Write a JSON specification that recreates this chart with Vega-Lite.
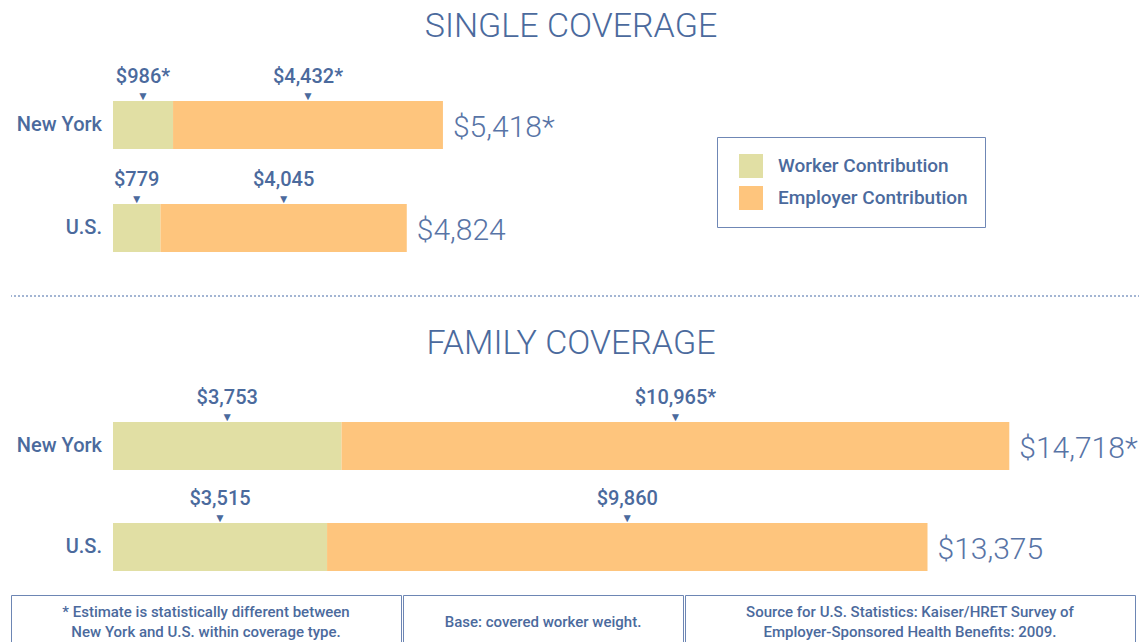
{
  "$schema": "https://vega.github.io/schema/vega-lite/v6.json",
  "padding": {"left": 10, "top": 10, "right": 0, "bottom": 0},
  "background": "white",
  "config": {"view": {"stroke": null}, "font": "Roboto"},
  "datasets": {
    "contrib": [
      {"coverage": "Single", "region": "New York", "type": "Worker Contribution", "amount": 986, "label": "$986*"},
      {"coverage": "Single", "region": "New York", "type": "Employer Contribution", "amount": 4432, "label": "$4,432*"},
      {"coverage": "Single", "region": "U.S.", "type": "Worker Contribution", "amount": 779, "label": "$779"},
      {"coverage": "Single", "region": "U.S.", "type": "Employer Contribution", "amount": 4045, "label": "$4,045"},
      {"coverage": "Family", "region": "New York", "type": "Worker Contribution", "amount": 3753, "label": "$3,753"},
      {"coverage": "Family", "region": "New York", "type": "Employer Contribution", "amount": 10965, "label": "$10,965*"},
      {"coverage": "Family", "region": "U.S.", "type": "Worker Contribution", "amount": 3515, "label": "$3,515"},
      {"coverage": "Family", "region": "U.S.", "type": "Employer Contribution", "amount": 9860, "label": "$9,860"}
    ],
    "totals": [
      {"coverage": "Single", "region": "New York", "total": 5418, "label": "$5,418*"},
      {"coverage": "Single", "region": "U.S.", "total": 4824, "label": "$4,824"},
      {"coverage": "Family", "region": "New York", "total": 14718, "label": "$14,718*"},
      {"coverage": "Family", "region": "U.S.", "total": 13375, "label": "$13,375"}
    ]
  },
  "spacing": 23,
  "vconcat": [
    {
      "spacing": 30,
      "vconcat": [
        {
          "width": 1126,
          "height": 205,
          "title": {"text": "SINGLE COVERAGE", "fontSize": 34, "fontWeight": 300, "color": "#4b6a9d", "anchor": "middle", "offset": 16, "dx": -3, "font": "Roboto"},
          "encoding": {
            "y": {"field": "region", "type": "nominal", "sort": ["New York", "U.S."],
              "scale": {"paddingInner": 0.534, "paddingOuter": 0.262, "align": 0.759},
              "axis": null}
          },
          "layer": [
            {
              "data": {"name": "contrib"},
              "transform": [{"filter": "datum.coverage === 'Single'"}],
              "mark": {"type": "bar"},
              "encoding": {
                "x": {"field": "amount", "type": "quantitative", "stack": "zero", "scale": {"domain": [-1675, 16815]}, "axis": null},
                "color": {"field": "type", "type": "nominal",
                  "scale": {"domain": ["Worker Contribution", "Employer Contribution"], "range": ["#e1dfa4", "#fec57d"]},
                  "legend": {"orient": "none", "legendX": 706, "legendY": 77, "title": null, "direction": "vertical", "symbolType": "square", "symbolSize": 576, "symbolStrokeWidth": 0, "symbolOffset": 5, "labelOffset": 15, "labelFontSize": 19, "labelFontWeight": 500, "labelColor": "#4b6a9d", "labelFont": "Roboto", "labelLimit": 400, "rowPadding": 8, "padding": 17, "strokeColor": "#6f87b5", "fillColor": "white"}},
                "order": {"field": "type", "sort": "descending"}
              }
            },
            {
              "data": {"name": "totals"},
              "transform": [{"filter": "datum.coverage === 'Single'"}],
              "mark": {"type": "text", "align": "right", "dx": -11, "fontSize": 20, "fontWeight": 500, "color": "#4b6a9d"},
              "encoding": {
                "x": {"datum": 0, "type": "quantitative", "scale": {"domain": [-1675, 16815]}},
                "text": {"field": "region"}
              }
            },
            {
              "data": {"name": "contrib"},
              "transform": [
                {"filter": "datum.coverage === 'Single'"},
                {"stack": "amount", "groupby": ["region"], "sort": [{"field": "type", "order": "descending"}], "as": ["v0", "v1"]},
                {"fold": ["v0", "v1"], "as": ["edge", "pos"]}
              ],
              "mark": {"type": "text", "dy": -48, "fontSize": 20, "fontWeight": 500, "color": "#4b6a9d"},
              "encoding": {
                "x": {"aggregate": "mean", "field": "pos", "type": "quantitative", "scale": {"domain": [-1675, 16815]}},
                "text": {"field": "label"}
              }
            },
            {
              "data": {"name": "contrib"},
              "transform": [
                {"filter": "datum.coverage === 'Single'"},
                {"stack": "amount", "groupby": ["region"], "sort": [{"field": "type", "order": "descending"}], "as": ["v0", "v1"]},
                {"fold": ["v0", "v1"], "as": ["edge", "pos"]}
              ],
              "mark": {"type": "text", "dy": -29, "fontSize": 12, "color": "#4b6a9d"},
              "encoding": {
                "x": {"aggregate": "mean", "field": "pos", "type": "quantitative", "scale": {"domain": [-1675, 16815]}},
                "detail": {"field": "type"},
                "text": {"value": "▼"}
              }
            },
            {
              "data": {"name": "totals"},
              "transform": [{"filter": "datum.coverage === 'Single'"}],
              "mark": {"type": "text", "align": "left", "dx": 10, "dy": 3, "fontSize": 30, "fontWeight": 300, "color": "#5874a6"},
              "encoding": {
                "x": {"field": "total", "type": "quantitative", "scale": {"domain": [-1675, 16815]}},
                "text": {"field": "label"}
              }
            }
          ]
        },
        {
          "width": 1129,
          "height": 1,
          "data": {"values": [{"level": 0}]},
          "mark": {"type": "rule", "color": "#a3b5d3", "strokeWidth": 2, "strokeDash": [2, 2]},
          "encoding": {"y": {"field": "level", "type": "quantitative", "scale": {"domain": [0, 1]}, "axis": null}}
        },
        {
          "width": 1126,
          "height": 193,
          "title": {"text": "FAMILY COVERAGE", "fontSize": 34, "fontWeight": 300, "color": "#4b6a9d", "anchor": "middle", "offset": 17, "dx": -3, "font": "Roboto"},
          "encoding": {
            "y": {"field": "region", "type": "nominal", "sort": ["New York", "U.S."],
              "scale": {"paddingInner": 0.525, "paddingOuter": 0.218, "align": 1},
              "axis": null}
          },
          "layer": [
            {
              "data": {"name": "contrib"},
              "transform": [{"filter": "datum.coverage === 'Family'"}],
              "mark": {"type": "bar"},
              "encoding": {
                "x": {"field": "amount", "type": "quantitative", "stack": "zero", "scale": {"domain": [-1675, 16815]}, "axis": null},
                "color": {"field": "type", "type": "nominal",
                  "scale": {"domain": ["Worker Contribution", "Employer Contribution"], "range": ["#e1dfa4", "#fec57d"]},
                  "legend": {"orient": "none", "legendX": 706, "legendY": 77, "title": null, "direction": "vertical", "symbolType": "square", "symbolSize": 576, "symbolStrokeWidth": 0, "symbolOffset": 5, "labelOffset": 15, "labelFontSize": 19, "labelFontWeight": 500, "labelColor": "#4b6a9d", "labelFont": "Roboto", "labelLimit": 400, "rowPadding": 8, "padding": 17, "strokeColor": "#6f87b5", "fillColor": "white"}},
                "order": {"field": "type", "sort": "descending"}
              }
            },
            {
              "data": {"name": "totals"},
              "transform": [{"filter": "datum.coverage === 'Family'"}],
              "mark": {"type": "text", "align": "right", "dx": -11, "fontSize": 20, "fontWeight": 500, "color": "#4b6a9d"},
              "encoding": {
                "x": {"datum": 0, "type": "quantitative", "scale": {"domain": [-1675, 16815]}},
                "text": {"field": "region"}
              }
            },
            {
              "data": {"name": "contrib"},
              "transform": [
                {"filter": "datum.coverage === 'Family'"},
                {"stack": "amount", "groupby": ["region"], "sort": [{"field": "type", "order": "descending"}], "as": ["v0", "v1"]},
                {"fold": ["v0", "v1"], "as": ["edge", "pos"]}
              ],
              "mark": {"type": "text", "dy": -48, "fontSize": 20, "fontWeight": 500, "color": "#4b6a9d"},
              "encoding": {
                "x": {"aggregate": "mean", "field": "pos", "type": "quantitative", "scale": {"domain": [-1675, 16815]}},
                "text": {"field": "label"}
              }
            },
            {
              "data": {"name": "contrib"},
              "transform": [
                {"filter": "datum.coverage === 'Family'"},
                {"stack": "amount", "groupby": ["region"], "sort": [{"field": "type", "order": "descending"}], "as": ["v0", "v1"]},
                {"fold": ["v0", "v1"], "as": ["edge", "pos"]}
              ],
              "mark": {"type": "text", "dy": -29, "fontSize": 12, "color": "#4b6a9d"},
              "encoding": {
                "x": {"aggregate": "mean", "field": "pos", "type": "quantitative", "scale": {"domain": [-1675, 16815]}},
                "detail": {"field": "type"},
                "text": {"value": "▼"}
              }
            },
            {
              "data": {"name": "totals"},
              "transform": [{"filter": "datum.coverage === 'Family'"}],
              "mark": {"type": "text", "align": "left", "dx": 10, "dy": 3, "fontSize": 30, "fontWeight": 300, "color": "#5874a6"},
              "encoding": {
                "x": {"field": "total", "type": "quantitative", "scale": {"domain": [-1675, 16815]}},
                "text": {"field": "label"}
              }
            }
          ]
        }
      ]
    },
    {
      "spacing": 0,
      "hconcat": [
        {
          "width": 390, "height": 48,
          "view": {"stroke": "#6d86b4", "strokeWidth": 1},
          "data": {"values": [{"note": "* Estimate is statistically different between\nNew York and U.S. within coverage type."}]},
          "mark": {"type": "text", "lineBreak": "\n", "fontSize": 15, "fontWeight": 500, "color": "#4b6a9d", "lineHeight": 20, "dy": -7},
          "encoding": {"text": {"field": "note"}}
        },
        {
          "width": 280, "height": 48,
          "view": {"stroke": "#6d86b4", "strokeWidth": 1},
          "data": {"values": [{"note": "Base: covered worker weight."}]},
          "mark": {"type": "text", "fontSize": 15, "fontWeight": 500, "color": "#4b6a9d", "dy": 3},
          "encoding": {"text": {"field": "note"}}
        },
        {
          "width": 450, "height": 48,
          "view": {"stroke": "#6d86b4", "strokeWidth": 1},
          "data": {"values": [{"note": "Source for U.S. Statistics: Kaiser/HRET Survey of\nEmployer-Sponsored Health Benefits: 2009."}]},
          "mark": {"type": "text", "lineBreak": "\n", "fontSize": 15, "fontWeight": 500, "color": "#4b6a9d", "lineHeight": 20, "dy": -7},
          "encoding": {"text": {"field": "note"}}
        }
      ]
    }
  ]
}
